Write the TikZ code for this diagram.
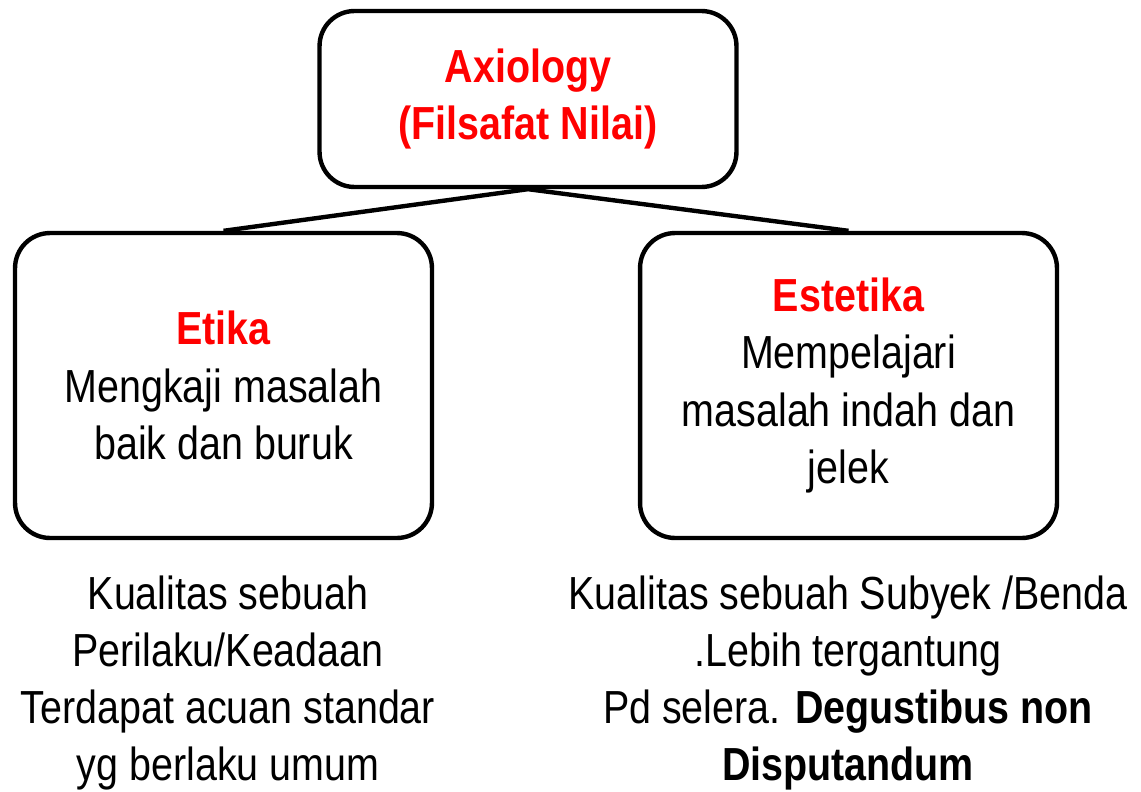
\documentclass[tikz,border=0pt]{standalone}
\usepackage{fontspec}
\setmainfont{Liberation Sans}[FakeStretch=0.85]
\usepackage{tikz}

\begin{document}
\begin{tikzpicture}[x=0.02cm,y=-0.02cm,
		box/.style={draw,line width=2.5pt,rounded corners=0.7cm,minimum width=8.34cm,align=center,inner sep=0pt},
		txt/.style={font=\fontsize{26.4}{32.6}\selectfont,align=center}]
			\useasboundingbox (0,0) rectangle (1141,791);
			\node[box,minimum height=3.52cm,txt] (axio) at (528,99) {\textcolor{red}{\bfseries Axiology}\\ \textcolor{red}{\bfseries (Filsafat Nilai)}};
			\node[box,minimum height=6.1cm,txt] (etika) at (223.5,385.5) {\textcolor{red}{\bfseries Etika}\\ Mengkaji masalah\\ baik dan buruk};
			\node[box,minimum height=6.1cm,txt] (estetika) at (848.5,385.5) {\textcolor{red}{\bfseries Estetika}\\ Mempelajari\\ masalah indah dan\\ jelek};
			\draw[line width=2.5pt] (etika.north) -- (axio.south) -- (estetika.north);
			\node[txt] (ketika) at (228,683) {Kualitas sebuah\\ Perilaku/Keadaan\\ Terdapat acuan standar\\ yg berlaku umum};
			\node[txt] (kestetika) at (848,683) {Kualitas sebuah Subyek /Benda\\ .Lebih tergantung\\ Pd selera. \textbf{Degustibus non}\\ \textbf{Disputandum}};
		\end{tikzpicture}
\end{document}
